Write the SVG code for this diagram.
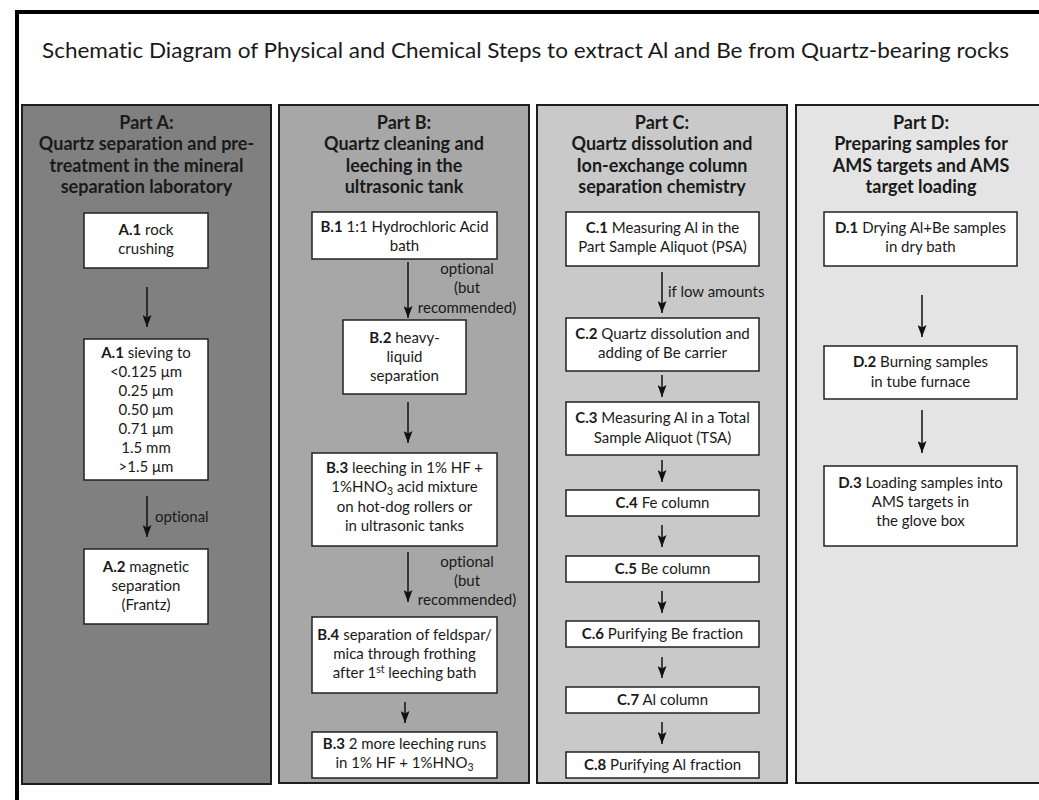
<svg xmlns="http://www.w3.org/2000/svg" width="1039" height="800" viewBox="0 0 1039 800">
<defs>
<marker id="ah" viewBox="0 0 12 9" refX="12" refY="4.5" markerWidth="13" markerHeight="9" orient="auto" markerUnits="userSpaceOnUse">
<path d="M0,0 L12,4.5 L0,9 L2.5,4.5 Z" fill="#111"/>
</marker>
</defs>
<style>
text{font-family:Lato,"Liberation Sans",sans-serif;fill:#1a1a1a;font-variant-ligatures:none}
.title{font-size:22px}
.hd{font-size:18px;font-weight:bold;text-anchor:middle}
.t{font-size:15px;text-anchor:middle}
.lbl{font-size:15px}
.lc{font-size:15px;text-anchor:middle}
.b{font-weight:bold}
.panel{stroke:#1e1e1e;stroke-width:2}
.box{fill:#fff;stroke:#222;stroke-width:1.5}
.conn line{stroke:#111;stroke-width:1.5;marker-end:url(#ah)}
</style>
<rect x="0" y="0" width="1039" height="800" fill="#fff"/>
<rect x="17" y="12" width="1100" height="900" fill="none" stroke="#000" stroke-width="4"/>
<text class="title" x="42" y="58" textLength="967" lengthAdjust="spacingAndGlyphs">Schematic Diagram of Physical and Chemical Steps to extract Al and Be from Quartz-bearing rocks</text>

<g id="partA">
<rect class="panel" x="22" y="105" width="249" height="679" fill="#808080"/>
<text class="hd" x="146.5" y="129">Part A:</text>
<text class="hd" x="146.5" y="150">Quartz separation and pre-</text>
<text class="hd" x="146.5" y="172">treatment in the mineral</text>
<text class="hd" x="146.5" y="193">separation laboratory</text>
</g>
<g id="partB">
<rect class="panel" x="279" y="105" width="250" height="678" fill="#a7a7a7"/>
<text class="hd" x="404" y="129">Part B:</text>
<text class="hd" x="404" y="150">Quartz cleaning and</text>
<text class="hd" x="404" y="172">leeching in the</text>
<text class="hd" x="404" y="193">ultrasonic tank</text>
</g>
<g id="partC">
<rect class="panel" x="537" y="105" width="250" height="678" fill="#c9c9c9"/>
<text class="hd" x="662" y="129">Part C:</text>
<text class="hd" x="662" y="150">Quartz dissolution and</text>
<text class="hd" x="662" y="172">Ion-exchange column</text>
<text class="hd" x="662" y="193">separation chemistry</text>
</g>
<g id="partD">
<rect class="panel" x="796" y="105" width="300" height="678" fill="#e4e4e4"/>
<text class="hd" x="921" y="129">Part D:</text>
<text class="hd" x="921" y="150">Preparing samples for</text>
<text class="hd" x="921" y="172">AMS targets and AMS</text>
<text class="hd" x="921" y="193">target loading</text>
</g>

<g id="A1">
<rect class="box" x="84" y="213" width="124" height="55"/>
<text class="t" x="146" y="235"><tspan class="b">A.1</tspan> rock</text>
<text class="t" x="146" y="254">crushing</text>
</g>
<g id="A1s">
<rect class="box" x="84" y="339" width="124" height="141"/>
<text class="t" x="146" y="358"><tspan class="b">A.1</tspan> sieving to</text>
<text class="t" x="146" y="377">&lt;0.125 μm</text>
<text class="t" x="146" y="396">0.25 μm</text>
<text class="t" x="146" y="415">0.50 μm</text>
<text class="t" x="146" y="434">0.71 μm</text>
<text class="t" x="146" y="453">1.5 mm</text>
<text class="t" x="146" y="472">&gt;1.5 μm</text>
</g>
<g id="A2">
<rect class="box" x="84" y="549" width="124" height="75"/>
<text class="t" x="146" y="572"><tspan class="b">A.2</tspan> magnetic</text>
<text class="t" x="146" y="591">separation</text>
<text class="t" x="146" y="610">(Frantz)</text>
</g>

<g id="B1">
<rect class="box" x="312" y="212" width="185" height="47"/>
<text class="t" x="404.5" y="232"><tspan class="b">B.1</tspan> 1:1 Hydrochloric Acid</text>
<text class="t" x="404.5" y="251">bath</text>
</g>
<g id="B2">
<rect class="box" x="343" y="320" width="123" height="74"/>
<text class="t" x="404.5" y="343"><tspan class="b">B.2</tspan> heavy-</text>
<text class="t" x="404.5" y="362">liquid</text>
<text class="t" x="404.5" y="381">separation</text>
</g>
<g id="B3">
<rect class="box" x="312" y="453" width="185" height="93"/>
<text class="t" x="404.5" y="473"><tspan class="b">B.3</tspan> leeching in 1% HF +</text>
<text class="t" x="404.5" y="492">1%HNO<tspan font-size="10.5" dy="3">3</tspan><tspan dy="-3"> acid mixture</tspan></text>
<text class="t" x="404.5" y="512">on hot-dog rollers or</text>
<text class="t" x="404.5" y="531">in ultrasonic tanks</text>
</g>
<g id="B4">
<rect class="box" x="312" y="617" width="185" height="76"/>
<text class="t" x="404.5" y="640"><tspan class="b">B.4</tspan> separation of feldspar/</text>
<text class="t" x="404.5" y="659">mica through frothing</text>
<text class="t" x="404.5" y="678">after 1<tspan font-size="10.5" dy="-5">st</tspan><tspan dy="5"> leeching bath</tspan></text>
</g>
<g id="B3b">
<rect class="box" x="312" y="732" width="185" height="46"/>
<text class="t" x="404.5" y="749"><tspan class="b">B.3</tspan> 2 more leeching runs</text>
<text class="t" x="404.5" y="768">in 1% HF + 1%HNO<tspan font-size="10.5" dy="3">3</tspan></text>
</g>

<g id="C1">
<rect class="box" x="566" y="212" width="193" height="54"/>
<text class="t" x="662.5" y="233"><tspan class="b">C.1</tspan> Measuring Al in the</text>
<text class="t" x="662.5" y="252">Part Sample Aliquot (PSA)</text>
</g>
<g id="C2">
<rect class="box" x="566" y="318" width="193" height="53"/>
<text class="t" x="662.5" y="339"><tspan class="b">C.2</tspan> Quartz dissolution and</text>
<text class="t" x="662.5" y="358">adding of Be carrier</text>
</g>
<g id="C3">
<rect class="box" x="566" y="402" width="193" height="53"/>
<text class="t" x="662.5" y="423"><tspan class="b">C.3</tspan> Measuring Al in a Total</text>
<text class="t" x="662.5" y="443">Sample Aliquot (TSA)</text>
</g>
<g id="C4">
<rect class="box" x="566" y="490" width="193" height="26"/>
<text class="t" x="662.5" y="508"><tspan class="b">C.4</tspan> Fe column</text>
</g>
<g id="C5">
<rect class="box" x="566" y="556" width="193" height="26"/>
<text class="t" x="662.5" y="574"><tspan class="b">C.5</tspan> Be column</text>
</g>
<g id="C6">
<rect class="box" x="566" y="621" width="193" height="26"/>
<text class="t" x="662.5" y="639"><tspan class="b">C.6</tspan> Purifying Be fraction</text>
</g>
<g id="C7">
<rect class="box" x="566" y="687" width="193" height="26"/>
<text class="t" x="662.5" y="705"><tspan class="b">C.7</tspan> Al column</text>
</g>
<g id="C8">
<rect class="box" x="566" y="752" width="193" height="26"/>
<text class="t" x="662.5" y="770"><tspan class="b">C.8</tspan> Purifying Al fraction</text>
</g>

<g id="D1">
<rect class="box" x="824" y="212" width="193" height="54"/>
<text class="t" x="920.5" y="233"><tspan class="b">D.1</tspan> Drying Al+Be samples</text>
<text class="t" x="920.5" y="252">in dry bath</text>
</g>
<g id="D2">
<rect class="box" x="824" y="346" width="193" height="53"/>
<text class="t" x="920.5" y="367"><tspan class="b">D.2</tspan> Burning samples</text>
<text class="t" x="920.5" y="387">in tube furnace</text>
</g>
<g id="D3">
<rect class="box" x="824" y="466" width="193" height="80"/>
<text class="t" x="920.5" y="488"><tspan class="b">D.3</tspan> Loading samples into</text>
<text class="t" x="920.5" y="507">AMS targets in</text>
<text class="t" x="920.5" y="526">the glove box</text>
</g>

<g id="connectors" class="conn">
<line x1="147" y1="287" x2="147" y2="327"/>
<line x1="147" y1="496" x2="147" y2="537"/>
<line x1="408" y1="262" x2="408" y2="318"/>
<line x1="408" y1="402" x2="408" y2="443"/>
<line x1="408" y1="552" x2="408" y2="602"/>
<line x1="405" y1="702" x2="405" y2="723"/>
<line x1="662" y1="272" x2="662" y2="313"/>
<line x1="662" y1="375" x2="662" y2="397"/>
<line x1="662" y1="460" x2="662" y2="482"/>
<line x1="662" y1="525" x2="662" y2="547"/>
<line x1="662" y1="591" x2="662" y2="613"/>
<line x1="662" y1="657" x2="662" y2="678"/>
<line x1="662" y1="722" x2="662" y2="744"/>
<line x1="922" y1="295" x2="922" y2="337"/>
<line x1="922" y1="410" x2="922" y2="453"/>
</g>
<g id="labels">
<text class="lbl" x="155" y="522">optional</text>
<text class="lc" x="467" y="274">optional</text>
<text class="lc" x="467" y="293">(but</text>
<text class="lc" x="467" y="313">recommended)</text>
<text class="lc" x="467" y="567">optional</text>
<text class="lc" x="467" y="586">(but</text>
<text class="lc" x="467" y="605">recommended)</text>
<text class="lbl" x="668" y="297">if low amounts</text>
</g>
</svg>
